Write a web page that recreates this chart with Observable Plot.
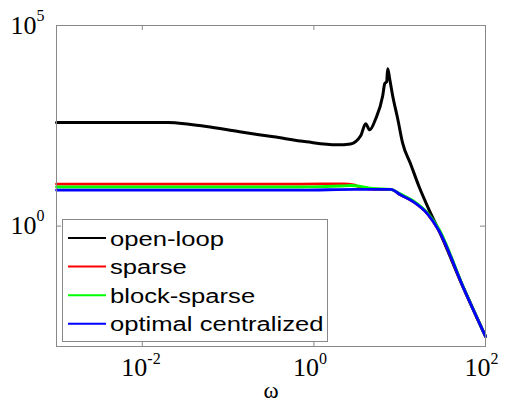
<!DOCTYPE html>
<html><head><meta charset="utf-8">
<script src="https://cdn.jsdelivr.net/npm/d3@7"></script>
<script src="https://cdn.jsdelivr.net/npm/@observablehq/plot@0.6"></script>
<style>
body{margin:0;background:#fff}
#wrap{width:506px;height:404px}
</style>
</head><body><div id="wrap"></div>
<script>
// ---- data ----
const series = ["open-loop", "sparse", "block-sparse", "optimal centralized"];
const colors = ["#000000", "#ff0000", "#00ff00", "#0000ff"];

const omegaOpen = [0.001, 0.02, 0.035, 0.056, 0.136, 0.34, 0.82, 1.84, 2.68, 3.51, 4.01, 4.47, 5.25, 6.34, 6.69, 7.05, 7.25, 7.64, 8.28, 9.48, 10.8, 13.4, 16.7, 21.8, 28.5, 55.7, 100];
const magOpen   = [382, 382, 345, 304, 224, 168, 126, 106, 112, 178, 355, 251, 473, 1778, 3548, 3981, 8414, 4732, 1778, 473, 119, 35.5, 10, 2.66, 0.79, 0.028, 0.00178];

const omegaSparse = [0.001, 0.7, 2.2, 2.91, 3.7, 5.25, 7.85, 10.3, 14.6, 21.2, 28.5, 55.7, 100];
const magSparse   = [11.2, 11.2, 11.3, 10.6, 8.9, 8.3, 8.2, 5.96, 3.98, 2.0, 0.79, 0.028, 0.00178];

const omegaBlock = [0.001, 0.7, 1.0, 2.05, 2.68, 3.51, 4.84, 7.85, 10.3, 14.6, 21.2, 28.5, 55.7, 100];
const magBlock   = [9.44, 9.44, 9.5, 10, 10.3, 9.8, 8.66, 8.27, 6.3, 4.2, 2.1, 0.86, 0.029, 0.0018];

const omegaOpt = [0.001, 0.7, 3.07, 7.85, 10.3, 14.6, 21.2, 28.5, 55.7, 100];
const magOpt   = [7.85, 7.85, 8.27, 8.2, 5.96, 3.98, 2.0, 0.79, 0.028, 0.00178];

const xTicks = [1e-2, 1, 1e2];
const xTickExp = ["-2", "0", "2"];
const yTicks = [1, 1e5];
const yTickExp = ["0", "5"];
const xLabel = "ω";

// ---- build ----
const omegas = [omegaOpen, omegaSparse, omegaBlock, omegaOpt];
const mags = [magOpen, magSparse, magBlock, magOpt];
const seriesData = series.map((s, i) => omegas[i].map((w, j) => ({s, w, m: mags[i][j]})));

const W = 506, H = 404, mL = 56, mR = 21, mT = 25, mB = 58;
const fw = W - mL - mR, fh = H - mT - mB;
const serif = "'Liberation Serif','DejaVu Serif',serif";
const axisColor = "#888";

const chart = Plot.plot({
  width: W, height: H,
  marginLeft: mL, marginRight: mR, marginTop: mT, marginBottom: mB,
  style: {background: "#fff", overflow: "visible"},
  x: {type: "log", domain: [1e-3, 1e2], axis: null},
  y: {type: "log", domain: [1e-3, 1e5], axis: null},
  marks: [
    ...seriesData.map((d, i) => Plot.line(d, {x: "w", y: "m", stroke: colors[i], strokeWidth: i === 0 ? 3 : 2.8, curve: "monotone-x"})),
    Plot.frame({stroke: axisColor}),
    Plot.tickX(xTicks, {x: d => d, stroke: axisColor, insetTop: fh - 5}),
    Plot.tickX(xTicks, {x: d => d, stroke: axisColor, insetBottom: fh - 5}),
    Plot.tickY(yTicks, {y: d => d, stroke: axisColor, insetRight: fw - 5}),
    Plot.tickY(yTicks, {y: d => d, stroke: axisColor, insetLeft: fw - 5}),
    Plot.text(xTicks, {x: d => d, frameAnchor: "bottom", lineAnchor: "middle", text: () => "10", textAnchor: "end", dx: 5, dy: 21, fontSize: 26, fontFamily: serif, fill: "#000"}),
    Plot.text(xTicks, {x: d => d, frameAnchor: "bottom", lineAnchor: "middle", text: (d, i) => xTickExp[i], textAnchor: "start", dx: 5, dy: 12, fontSize: 16, fontFamily: serif, fill: "#000"}),
    Plot.text(yTicks, {y: d => d, frameAnchor: "left", lineAnchor: "middle", text: () => "10", textAnchor: "end", dx: -20, dy: 0, fontSize: 26, fontFamily: serif, fill: "#000"}),
    Plot.text(yTicks, {y: d => d, frameAnchor: "left", lineAnchor: "middle", text: (d, i) => yTickExp[i], textAnchor: "start", dx: -20, dy: -10, fontSize: 16, fontFamily: serif, fill: "#000"}),
    Plot.text([xLabel], {frameAnchor: "bottom", lineAnchor: "middle", text: d => d, dy: 44, fontSize: 23, fontFamily: serif, fill: "#000"})
  ]
});

// legend inside the axes box
const svg = d3.select(chart);
const g = svg.append("g").attr("text-anchor", "start");
g.append("rect").attr("x", 62.5).attr("y", 219.5).attr("width", 265).attr("height", 122)
  .attr("fill", "#fff").attr("stroke", axisColor);
series.forEach((s, i) => {
  const cy = 238 + i * 28.6;
  g.append("line").attr("x1", 68).attr("x2", 106).attr("y1", cy).attr("y2", cy)
    .attr("stroke", colors[i]).attr("stroke-width", 2);
  g.append("text").attr("transform", `translate(110,${cy + 7.5}) scale(1.22,1)`)
    .attr("text-anchor", "start")
    .attr("font-family", "'Liberation Sans',Arial,sans-serif").attr("font-size", 21)
    .attr("fill", "#000").text(s);
});

document.getElementById("wrap").appendChild(chart);
</script>
</body></html>
